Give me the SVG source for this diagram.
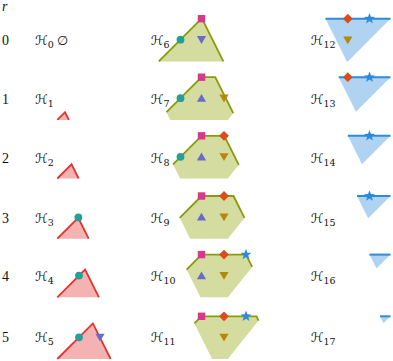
<svg xmlns="http://www.w3.org/2000/svg" xmlns:xlink="http://www.w3.org/1999/xlink" width="393" height="361" viewBox="0 0 393 361">
<style>
.t{font-family:"Liberation Serif","DejaVu Serif",serif;font-size:14px;fill:#111}
.h{font-family:"DejaVu Serif","DejaVu Sans",serif;font-size:13px;fill:#111}
.s{font-size:9.5px}
.rf{fill:#f4b2b2;stroke:none}
.rs{fill:none;stroke:#e3342f;stroke-width:1.8;stroke-linejoin:miter}
.gf{fill:#d4dc9f;stroke:none}
.gs{fill:none;stroke:#8a9a0a;stroke-width:1.8}
.bf{fill:#afd3f0;stroke:none}
.bs{fill:none;stroke:#2d8bdb;stroke-width:2}
</style>
<defs>
<circle id="ci" r="3.9" fill="#26a095"/>
<rect id="sq" x="-3.7" y="-3.7" width="7.4" height="7.4" fill="#d63a86"/>
<polygon id="pd" points="-4.6,-3.6 4.6,-3.6 0,4.2" fill="#6a6acb"/>
<polygon id="pu" points="-4.6,3.6 4.6,3.6 0,-4.2" fill="#6a6acb"/>
<polygon id="bd" points="-4.6,-3.6 4.6,-3.6 0,4.2" fill="#b8860b"/>
<polygon id="di" points="0,-4.9 4.9,0 0,4.9 -4.9,0" fill="#dd4b1a"/>
<polygon id="st" points="0,-5.8 1.411,-1.942 5.516,-1.792 2.283,0.742 3.409,4.692 0,2.4 -3.409,4.692 -2.283,0.742 -5.516,-1.792 -1.411,-1.942" fill="#2b8ae0"/>
</defs>

<g id="labels">
<text class="t" x="2" y="11" font-style="italic">r</text>
<text class="t" x="2" y="45">0</text>
<text class="t" x="2" y="103.5">1</text>
<text class="t" x="2" y="163">2</text>
<text class="t" x="2" y="223">3</text>
<text class="t" x="2" y="280.5">4</text>
<text class="t" x="2" y="342">5</text>
</g>

<g id="H0"><text class="h" x="35" y="45">ℋ<tspan class="s" dy="3">0</tspan></text><text class="h" x="57" y="45" font-family="DejaVu Sans">∅</text></g>
<g id="H1"><text class="h" x="35" y="103.5">ℋ<tspan class="s" dy="3">1</tspan></text>
<polygon class="rf" points="57.3,119.9 65,112.2 68.85,119.9"/><polyline class="rs" points="57.3,119.9 65,112.2 68.85,119.9"/></g>
<g id="H2"><text class="h" x="35" y="163">ℋ<tspan class="s" dy="3">2</tspan></text>
<polygon class="rf" points="57.3,178.5 71.53,164.27 78.65,178.5"/><polyline class="rs" points="57.3,178.5 71.53,164.27 78.65,178.5"/></g>
<g id="H3"><text class="h" x="35" y="223">ℋ<tspan class="s" dy="3">3</tspan></text>
<polygon class="rf" points="57.3,238.7 78.2,217.8 88.65,238.7"/><polyline class="rs" points="57.3,238.7 78.2,217.8 88.65,238.7"/>
<use href="#ci" x="78.4" y="217.4"/></g>
<g id="H4"><text class="h" x="35" y="280.5">ℋ<tspan class="s" dy="3">4</tspan></text>
<polygon class="rf" points="57.3,297.3 85.07,269.53 98.95,297.3"/><polyline class="rs" points="57.3,297.3 85.07,269.53 98.95,297.3"/>
<use href="#ci" x="79" y="275.6"/></g>
<g id="H5"><text class="h" x="35" y="342">ℋ<tspan class="s" dy="3">5</tspan></text>
<polygon class="rf" points="57.3,359 92.87,323.43 110.65,359"/><polyline class="rs" points="57.3,359 92.87,323.43 110.65,359"/>
<use href="#ci" x="79" y="337.3"/><use href="#pd" x="100" y="337.3"/></g>

<g id="H6"><text class="h" x="150.7" y="45">ℋ<tspan class="s" dy="3">6</tspan></text>
<polygon class="gf" points="201.5,18.7 202,18.7 223.35,61.4 158.8,61.4"/>
<polyline class="gs" points="158.8,61.4 201.5,18.7 202,18.7 223.35,61.4"/>
<use href="#sq" x="201.5" y="18.7"/><use href="#ci" x="180.5" y="39.7"/><use href="#pd" x="201.5" y="39.7"/></g>
<g id="H7"><text class="h" x="150.7" y="103.5">ℋ<tspan class="s" dy="3">7</tspan></text>
<polygon class="gf" points="201.5,77.2 215.2,77.2 233.2,113.2 227.84,119.9 170.35,119.9 166.5,112.2"/>
<polyline class="gs" points="166.5,112.2 201.5,77.2 215.2,77.2 233.2,113.2"/>
<use href="#sq" x="201.5" y="77.2"/><use href="#ci" x="180.5" y="98.2"/><use href="#pu" x="201.5" y="98.2"/><use href="#bd" x="224" y="98.2"/></g>
<g id="H8"><text class="h" x="150.7" y="163">ℋ<tspan class="s" dy="3">8</tspan></text>
<polygon class="gf" points="201.5,135.8 224.3,135.8 238.8,164.8 227.84,178.5 180.15,178.5 173.03,164.27"/>
<polyline class="gs" points="173.03,164.27 201.5,135.8 224.3,135.8 238.8,164.8"/>
<use href="#sq" x="201.5" y="135.8"/><use href="#di" x="224" y="135.8"/><use href="#ci" x="180.5" y="156.8"/><use href="#pu" x="201.5" y="156.8"/><use href="#bd" x="224" y="156.8"/></g>
<g id="H9"><text class="h" x="150.7" y="223">ℋ<tspan class="s" dy="3">9</tspan></text>
<polygon class="gf" points="201.5,196 233.5,196 244.46,217.9 227.84,238.7 190.15,238.7 179.7,217.8"/>
<polyline class="gs" points="179.7,217.8 201.5,196 233.5,196 244.46,217.9"/>
<use href="#sq" x="201.5" y="196"/><use href="#di" x="224" y="196"/><use href="#pu" x="201.5" y="217"/><use href="#bd" x="224" y="217"/></g>
<g id="H10"><text class="h" x="150.7" y="280.5">ℋ<tspan class="s" dy="3">10</tspan></text>
<polygon class="gf" points="201.5,254.6 246,254.6 252.15,266.9 227.84,297.3 200.45,297.3 186.57,269.53"/>
<polyline class="gs" points="186.57,269.53 201.5,254.6 246,254.6 252.15,266.9"/>
<use href="#sq" x="201.5" y="254.6"/><use href="#di" x="224" y="254.6"/><use href="#st" x="246" y="254.6"/><use href="#pu" x="201.5" y="275.6"/><use href="#bd" x="224" y="275.6"/></g>
<g id="H11"><text class="h" x="150.7" y="342">ℋ<tspan class="s" dy="3">11</tspan></text>
<polygon class="gf" points="201.5,316.3 256.5,316.3 258.6,320.53 227.84,359 212.15,359 194.37,323.43"/>
<polyline class="gs" points="194.37,323.43 201.5,316.3 256.5,316.3 258.6,320.53"/>
<use href="#sq" x="201.5" y="316.3"/><use href="#di" x="224" y="316.3"/><use href="#st" x="246" y="316.3"/><use href="#bd" x="224" y="337.3"/></g>

<g id="H12"><text class="h" x="310.7" y="45">ℋ<tspan class="s" dy="3">12</tspan></text>
<polygon class="bf" points="325.5,18.7 390.5,18.7 347.8,61.4 346.85,61.4"/>
<line class="bs" x1="325.5" y1="18.7" x2="390.5" y2="18.7"/>
<use href="#di" x="347.8" y="18.7"/><use href="#st" x="369.5" y="18.7"/><use href="#bd" x="347.8" y="40"/></g>
<g id="H13"><text class="h" x="310.7" y="103.5">ℋ<tspan class="s" dy="3">13</tspan></text>
<polygon class="bf" points="338.7,77.2 390.5,77.2 355.97,111.73"/>
<line class="bs" x1="338.7" y1="77.2" x2="390.5" y2="77.2"/>
<use href="#di" x="347.8" y="77.2"/><use href="#st" x="369.5" y="77.2"/></g>
<g id="H14"><text class="h" x="310.7" y="163">ℋ<tspan class="s" dy="3">14</tspan></text>
<polygon class="bf" points="347.8,135.8 390.5,135.8 362.03,164.27"/>
<line class="bs" x1="347.8" y1="135.8" x2="390.5" y2="135.8"/>
<use href="#st" x="369.5" y="135.8"/></g>
<g id="H15"><text class="h" x="310.7" y="223">ℋ<tspan class="s" dy="3">15</tspan></text>
<polygon class="bf" points="357,196 390.5,196 368.17,218.33"/>
<line class="bs" x1="357" y1="196" x2="390.5" y2="196"/>
<use href="#st" x="369.5" y="196"/></g>
<g id="H16"><text class="h" x="310.7" y="280.5">ℋ<tspan class="s" dy="3">16</tspan></text>
<polygon class="bf" points="369.5,254.6 390.5,254.6 376.5,268.6"/>
<line class="bs" x1="369.5" y1="254.6" x2="390.5" y2="254.6"/></g>
<g id="H17"><text class="h" x="310.7" y="342">ℋ<tspan class="s" dy="3">17</tspan></text>
<polygon class="bf" points="380,316.3 390.5,316.3 383.5,323.3"/>
<line class="bs" x1="380" y1="316.3" x2="390.5" y2="316.3"/></g>
<g id="connectors"/>
</svg>
